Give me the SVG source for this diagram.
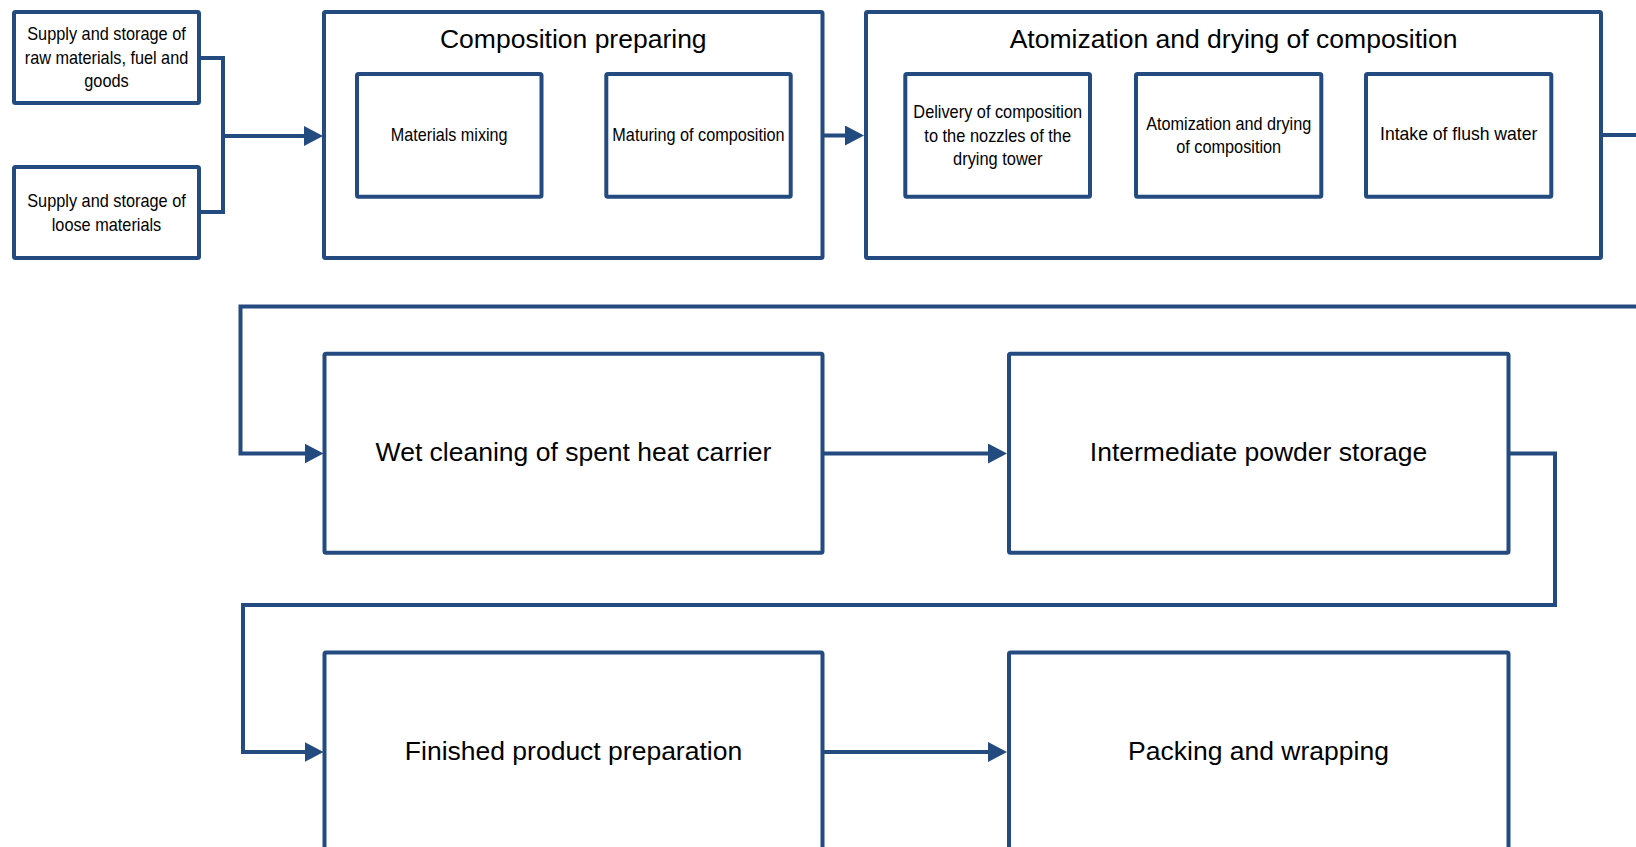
<svg xmlns="http://www.w3.org/2000/svg" width="1636" height="847" viewBox="0 0 1636 847">
<style>
.box{fill:#ffffff;stroke:#244B80;stroke-width:4;}
.sub{fill:#ffffff;stroke:#244B80;stroke-width:4;}
.conn{fill:none;stroke:#244B80;stroke-width:4;stroke-linejoin:miter;}
.arr{marker-end:url(#ah);}
text{font-family:"Liberation Sans",Arial,sans-serif;fill:#000000;text-anchor:middle;}
.s{font-size:18.5px;}
.t{font-size:26.5px;}
</style>
<defs>
<marker id="ah" viewBox="0 0 19 20" refX="4" refY="10" markerWidth="19" markerHeight="20" markerUnits="userSpaceOnUse" orient="auto">
<path d="M0,0 L19,10 L0,20 Z" fill="#244B80"/>
</marker>
</defs>
<rect width="1636" height="847" fill="#ffffff"/>

<g id="connectors">
<path class="conn" d="M199,58 H223 V212 H199"/>
<path class="conn arr" d="M223,136 H308"/>
<path class="conn arr" d="M822,135.5 H849"/>
<path class="conn arr" d="M1601,135 H1660 V306.5 H240.5 V453.5 H308.5"/>
<path class="conn arr" d="M822.5,453.5 H992"/>
<path class="conn arr" d="M1508.5,453.5 H1555 V605 H243 V752 H308.5"/>
<path class="conn arr" d="M822.5,752 H992"/>
</g>

<g id="supply-raw">
<rect class="box" x="14" y="12" width="185" height="91" rx="1.5"/>
<text class="s" x="106.5" y="40" textLength="158.5" lengthAdjust="spacingAndGlyphs">Supply and storage of</text>
<text class="s" x="106.5" y="63.5" textLength="163.5" lengthAdjust="spacingAndGlyphs">raw materials, fuel and</text>
<text class="s" x="106.5" y="87.3" textLength="44.5" lengthAdjust="spacingAndGlyphs">goods</text>
</g>

<g id="supply-loose">
<rect class="box" x="14" y="167" width="185" height="91" rx="1.5"/>
<text class="s" x="106.5" y="206.7" textLength="158.5" lengthAdjust="spacingAndGlyphs">Supply and storage of</text>
<text class="s" x="106.5" y="230.5" textLength="109.5" lengthAdjust="spacingAndGlyphs">loose materials</text>
</g>

<g id="composition-preparing">
<rect class="box" x="324" y="12" width="498.5" height="246" rx="1.5"/>
<text class="t" x="573.3" y="48.3">Composition preparing</text>
<g id="materials-mixing">
<rect class="sub" x="357" y="74" width="184.5" height="122.7" rx="1.5"/>
<text class="s" x="449.2" y="141" textLength="116.7" lengthAdjust="spacingAndGlyphs">Materials mixing</text>
</g>
<g id="maturing">
<rect class="sub" x="606.3" y="74" width="184.4" height="122.7" rx="1.5"/>
<text class="s" x="698.5" y="141" textLength="172.3" lengthAdjust="spacingAndGlyphs">Maturing of composition</text>
</g>
</g>

<g id="atomization-drying">
<rect class="box" x="866" y="12" width="735" height="246" rx="1.5"/>
<text class="t" x="1233.6" y="48.3">Atomization and drying of composition</text>
<g id="delivery">
<rect class="sub" x="905.3" y="74" width="184.7" height="122.7" rx="1.5"/>
<text class="s" x="997.7" y="118.3" textLength="168.7" lengthAdjust="spacingAndGlyphs">Delivery of composition</text>
<text class="s" x="997.7" y="141.6" textLength="146.7" lengthAdjust="spacingAndGlyphs">to the nozzles of the</text>
<text class="s" x="997.7" y="164.5" textLength="89.3" lengthAdjust="spacingAndGlyphs">drying tower</text>
</g>
<g id="atomization-inner">
<rect class="sub" x="1136" y="74" width="185.3" height="122.7" rx="1.5"/>
<text class="s" x="1228.7" y="130" textLength="165" lengthAdjust="spacingAndGlyphs">Atomization and drying</text>
<text class="s" x="1228.7" y="153" textLength="105" lengthAdjust="spacingAndGlyphs">of composition</text>
</g>
<g id="intake">
<rect class="sub" x="1366" y="74" width="185.3" height="122.7" rx="1.5"/>
<text class="s" x="1458.7" y="140" textLength="157.3" lengthAdjust="spacingAndGlyphs">Intake of flush water</text>
</g>
</g>

<g id="wet-cleaning">
<rect class="box" x="324.5" y="353.7" width="498" height="199" rx="1.5"/>
<text class="t" x="573.5" y="460.7">Wet cleaning of spent heat carrier</text>
</g>

<g id="intermediate-storage">
<rect class="box" x="1009" y="353.7" width="499.5" height="199" rx="1.5"/>
<text class="t" x="1258.5" y="460.7">Intermediate powder storage</text>
</g>

<g id="finished-product">
<rect class="box" x="324.5" y="652.5" width="498" height="300" rx="1.5"/>
<text class="t" x="573.5" y="760">Finished product preparation</text>
</g>

<g id="packing">
<rect class="box" x="1009" y="652.5" width="499.5" height="300" rx="1.5"/>
<text class="t" x="1258.5" y="760">Packing and wrapping</text>
</g>
</svg>
